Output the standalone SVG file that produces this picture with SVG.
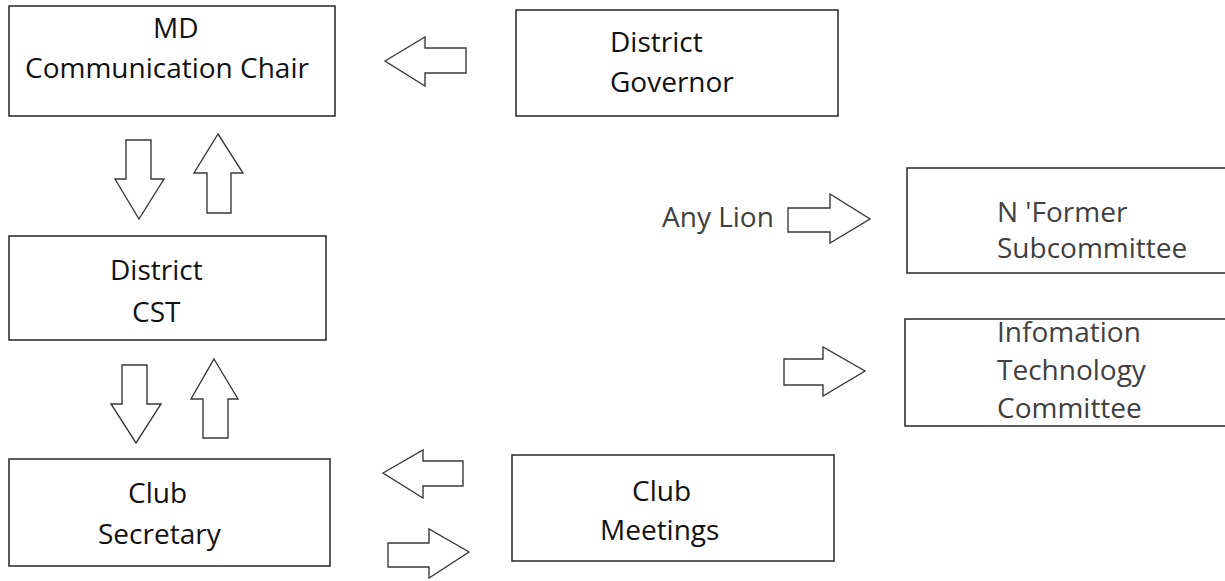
<svg xmlns="http://www.w3.org/2000/svg" width="1225" height="581" viewBox="0 0 1225 581">
<style>
.box{fill:#fff;stroke:#333;stroke-width:1.6}
.arr{fill:#fff;stroke:#3a3a3a;stroke-width:1.4;stroke-linejoin:miter}
.t{font-family:"Open Sans","Noto Sans",sans-serif;font-size:28px;fill:#111}
.g{fill:#404040}
</style>
<rect width="1225" height="581" fill="#fff"/>
<g id="connectors">
<polygon class="arr" points="385,61 425,37 425,48 466,48 466,73 425,73 425,86"/>
<polygon class="arr" points="126,140 151,140 151,179 164,179 139,219 115,179 126,179"/>
<polygon class="arr" points="218,134 243,173 231,173 231,213 207,213 207,173 194,173"/>
<polygon class="arr" points="122,365 147,365 147,404 161,404 136,443 111,404 122,404"/>
<polygon class="arr" points="214,359 238,399 228,399 228,438 203,438 203,399 191,399"/>
<polygon class="arr" points="788,208 830,208 830,194 870,219 830,243 830,232 788,232"/>
<polygon class="arr" points="784,359 823,359 823,347 865,371 823,396 823,385 784,385"/>
<polygon class="arr" points="383,473 423,450 423,461 463,461 463,486 423,486 423,498"/>
<polygon class="arr" points="388,543 429,543 429,529 469,552 429,578 429,567 388,567"/>
</g>
<g id="md-chair">
<rect class="box" x="9" y="6" width="326" height="110"/>
<text class="t" x="153" y="38">MD</text>
<text class="t" x="25" y="78">Communication Chair</text>
</g>
<g id="district-governor">
<rect class="box" x="516" y="10" width="322" height="106"/>
<text class="t" x="610" y="52">District</text>
<text class="t" x="610" y="92">Governor</text>
</g>
<g id="district-cst">
<rect class="box" x="9" y="236" width="317" height="104"/>
<text class="t" x="110" y="280">District</text>
<text class="t" x="132" y="322">CST</text>
</g>
<g id="club-secretary">
<rect class="box" x="9" y="459" width="321" height="107"/>
<text class="t" x="128" y="503">Club</text>
<text class="t" x="98" y="544">Secretary</text>
</g>
<g id="club-meetings">
<rect class="box" x="512" y="455" width="322" height="106"/>
<text class="t" x="632" y="501">Club</text>
<text class="t" x="600" y="540">Meetings</text>
</g>
<g id="any-lion">
<text class="t g" x="662" y="227">Any Lion</text>
</g>
<g id="nformer">
<rect class="box" x="907" y="168" width="330" height="105"/>
<text class="t g" x="997" y="222">N 'Former</text>
<text class="t g" x="997" y="258">Subcommittee</text>
</g>
<g id="it-committee">
<rect class="box" x="905" y="319" width="330" height="107"/>
<text class="t g" x="997" y="342">Infomation</text>
<text class="t g" x="997" y="380">Technology</text>
<text class="t g" x="997" y="418">Committee</text>
</g>
</svg>
